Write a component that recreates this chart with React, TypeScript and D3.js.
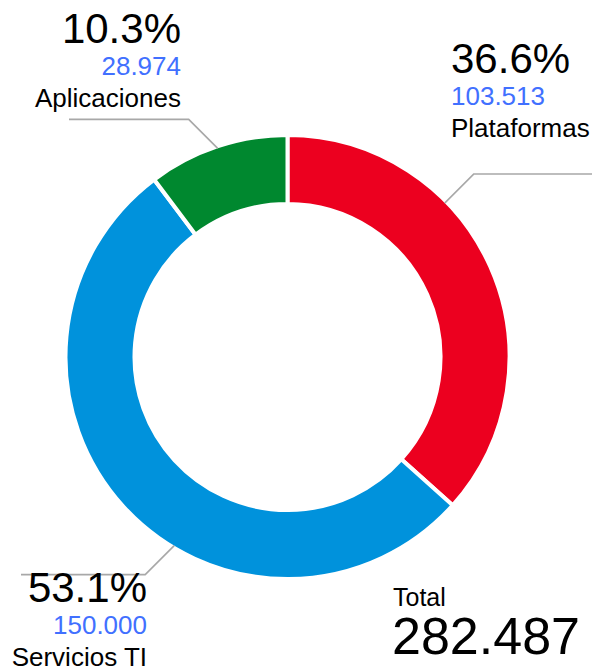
import React from "react";
import * as d3 from "d3";

const categories = ["Plataformas", "Servicios TI", "Aplicaciones"];
const values = [103513, 150000, 28974];
const colors = ["#ec001f", "#0092dc", "#00882f"];
const totalLabel = "Total";

// label layout (annotation placement)
const leaderAngles = [45.6, 211, 341.5]; // degrees clockwise from top
const leaderEndX = [592, 21, 69];
const labelAnchor: ("start" | "end")[] = ["start", "end", "end"];
const labelX = [451, 147, 181];
const labelY = [73, 602, 43];

const W = 592;
const H = 668;
const cx = 287.5;
const cy = 357;
const rOuter = 220;
const rInner = 155;

const locale = d3.formatLocale({ decimal: ",", thousands: ".", grouping: [3], currency: ["", ""] });
const fmtNum = locale.format(",d");
const fmtPct = d3.format(".1f");

export default function App() {
  const total = d3.sum(values);
  const pie = d3.pie<number>().sort(null).value((d) => d).startAngle(0).endAngle(2 * Math.PI);
  const arcs = pie(values);
  const arc = d3.arc<d3.PieArcDatum<number>>().innerRadius(rInner - 2).outerRadius(rOuter + 2);
  const font = "'Liberation Sans', Arial, sans-serif";

  return (
    <svg width={W} height={H} style={{ position: "fixed", left: 0, top: 0, background: "#fff" }} fontFamily={font}>
      <g transform={`translate(${cx},${cy})`}>
        {arcs.map((a, i) => (
          <path key={i} d={arc(a) || ""} fill={colors[i]} stroke="#fff" strokeWidth={4} />
        ))}
      </g>
      {categories.map((c, i) => {
        const ang = (leaderAngles[i] * Math.PI) / 180;
        const x0 = cx + rOuter * Math.sin(ang);
        const y0 = cy - rOuter * Math.cos(ang);
        const sx = Math.sin(ang) >= 0 ? 1 : -1;
        const sy = Math.cos(ang) >= 0 ? -1 : 1;
        const d = 29;
        const x1 = x0 + sx * d;
        const y1 = y0 + sy * d;
        const pct = (values[i] / total) * 100;
        const lx = labelX[i];
        const ly = labelY[i];
        return (
          <g key={c}>
            <polyline
              points={`${x0},${y0} ${x1},${y1} ${leaderEndX[i]},${y1}`}
              fill="none"
              stroke="#a8a8a8"
              strokeWidth={1.6}
            />
            <text x={lx} y={ly} textAnchor={labelAnchor[i]} fontSize={42} fill="#000">
              {fmtPct(pct)}%
            </text>
            <text x={lx} y={ly + 32} textAnchor={labelAnchor[i]} fontSize={26} fill="#4170ff">
              {fmtNum(values[i])}
            </text>
            <text x={lx} y={ly + 64} textAnchor={labelAnchor[i]} fontSize={26} fill="#000">
              {c}
            </text>
          </g>
        );
      })}
      <text x={393} y={606} fontSize={25} fill="#000">
        {totalLabel}
      </text>
      <text x={392} y={654} fontSize={52} fill="#000">
        {fmtNum(total)}
      </text>
    </svg>
  );
}
